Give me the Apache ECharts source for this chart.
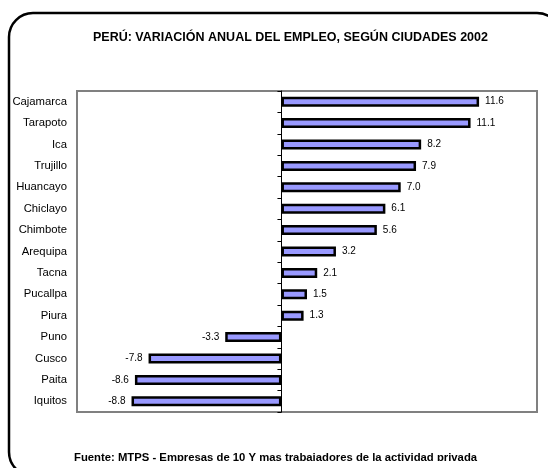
<!DOCTYPE html>
<html><head><meta charset="utf-8">
<script src="https://cdn.jsdelivr.net/npm/echarts@6/dist/echarts.min.js"></script>
<style>html,body{margin:0;padding:0;background:#fff}#c{width:548px;height:468px}</style>
</head><body><div id="c"></div>
<script>
const titleText = 'PERÚ: VARIACIÓN ANUAL DEL EMPLEO, SEGÚN CIUDADES 2002';
const sourceText = 'Fuente: MTPS - Empresas de 10 Y mas trabajadores de la actividad privada';
const cities = ['Cajamarca','Tarapoto','Ica','Trujillo','Huancayo','Chiclayo','Chimbote','Arequipa','Tacna','Pucallpa','Piura','Puno','Cusco','Paita','Iquitos'];
const values = [11.6, 11.1, 8.2, 7.9, 7.0, 6.1, 5.6, 3.2, 2.1, 1.5, 1.3, -3.3, -7.8, -8.6, -8.8];
const xMin = -12, xMax = 15;

const gridLeft = 77, gridRight = 11;
const plotW = 548 - gridLeft - gridRight;
const zeroOffset = -((0 - xMin) / (xMax - xMin)) * plotW;

const chart = echarts.init(document.getElementById('c'), null, {renderer:'canvas'});
const font = 'Liberation Sans, Arial, sans-serif';
chart.setOption({
  animation: false,
  textStyle: {fontFamily: font},
  grid: {left: gridLeft, top: 91, right: gridRight, bottom: 56, show: true, borderColor: '#808080', borderWidth: 2, backgroundColor: 'transparent'},
  xAxis: {type: 'value', min: xMin, max: xMax, interval: 3, show: false, splitLine: {show: false}},
  yAxis: [
    {type: 'category', data: cities, inverse: true, position: 'left',
     axisLine: {show: false}, axisTick: {show: false},
     axisLabel: {margin: 10, color: '#000', fontSize: 11.3, fontFamily: font}},
    {type: 'category', data: cities, inverse: true, position: 'left', offset: zeroOffset,
     axisLine: {show: true, onZero: false, lineStyle: {color: '#000', width: 1}},
     axisTick: {show: true, length: 4, lineStyle: {color: '#000'}},
     axisLabel: {show: false}}
  ],
  series: [{
    type: 'bar', yAxisIndex: 0, barWidth: 10,
    itemStyle: {color: '#9999FF', borderColor: '#000', borderWidth: 2.5},
    data: values.map(v => ({value: v, label: {position: v >= 0 ? 'right' : 'left'}})),
    label: {show: true, distance: 6, color: '#000', fontSize: 10, fontFamily: font,
      formatter: p => p.value.toFixed(1)}
  }],
  graphic: [
    {type: 'text', z: 10, left: 93, top: 31, style: {text: titleText, font: 'bold 12.5px ' + font, fill: '#000'}},
    {type: 'text', z: 10, left: 74, top: 452, style: {text: sourceText, font: 'bold 11.3px ' + font, fill: '#000'}},
    {type: 'rect', z: 20, shape: {x: 30, y: 461, width: 510, height: 10}, style: {fill: '#fff'}},
    {type: 'rect', z: 30, shape: {x: 9, y: 13, width: 552, height: 463, r: 24}, style: {fill: 'none', stroke: '#000', lineWidth: 2.5}}
  ]
});
</script></body></html>
